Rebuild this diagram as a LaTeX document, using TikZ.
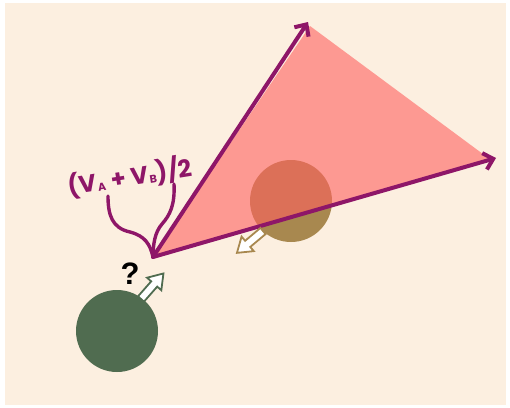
\documentclass[tikz,border=0pt]{standalone}
\usepackage{fontspec}
\setmainfont{Poppins}
\newfontfamily\qfont{Liberation Sans}
\usetikzlibrary{arrows.meta}
\definecolor{bg}{RGB}{252,239,224}
\definecolor{vec}{RGB}{142,22,104}
\definecolor{tri}{RGB}{255,96,94}
\definecolor{brownball}{RGB}{168,136,79}
\definecolor{greenball}{RGB}{80,108,80}
\tikzset{
  vecline/.style={draw=vec, line width=4pt, line cap=round, line join=round},
  vecarrow/.style={vecline, -{Straight Barb[length=9pt,width=17pt,line width=4pt]}},
  bracecurve/.style={draw=vec, line width=3.4pt, line cap=round},
  fatarrow/.pic={\draw[pic actions, line width=1.8pt, line join=miter, fill=white]
     (0,-4) -- (20,-4) -- (20,-9.5) -- (34,0) -- (20,9.5) -- (20,4) -- (0,4) -- cycle;}
}
\begin{document}
\begin{tikzpicture}[x=1pt,y=-1pt]
\useasboundingbox (0,0) rectangle (510,407);
\fill[white] (0,0) rectangle (510,407);
\fill[bg] (5,3) rectangle (506,405);
% balls
\fill[brownball] (291,201) circle (41);
\fill[greenball] (117,331) circle (41);
% triangle
\coordinate (apex) at (153,257);
\coordinate (tipA) at (308,22);
\coordinate (tipB) at (496,158);
\fill[tri, fill opacity=0.6] (apex) -- (310,26) -- (491,160) -- cycle;
\draw[vecarrow] (apex) -- (tipA);
\draw[vecarrow] (apex) -- (tipB);
% brace
\draw[bracecurve] (108,196) .. controls (108,215) and (112,228) .. (130,232)
   .. controls (145,236) and (150,244) .. (apex);
\draw[bracecurve] (174,184) .. controls (175,205) and (170,215) .. (162,224)
   .. controls (155,232) and (153,244) .. (apex);
% label
\node[text=vec, rotate=9, inner sep=0pt, font=\fontsize{24}{26}\selectfont\bfseries] (lbl) at (130,177)
  {(V\kern0.5pt\lower1pt\hbox{\fontsize{11}{11}\selectfont A}\kern1pt{} + V\kern0.5pt\lower1pt\hbox{\fontsize{11}{11}\selectfont B}\kern0.5pt)/2};
% question mark
\node[font=\qfont\bfseries\fontsize{31}{31}\selectfont] (q) at (130,274) {?};
% small arrows
\pic[draw=greenball, rotate=48.7] at (141,299) {fatarrow};
\pic[draw=brownball, rotate=220] at (263,231) {fatarrow};
\end{tikzpicture}
\end{document}
